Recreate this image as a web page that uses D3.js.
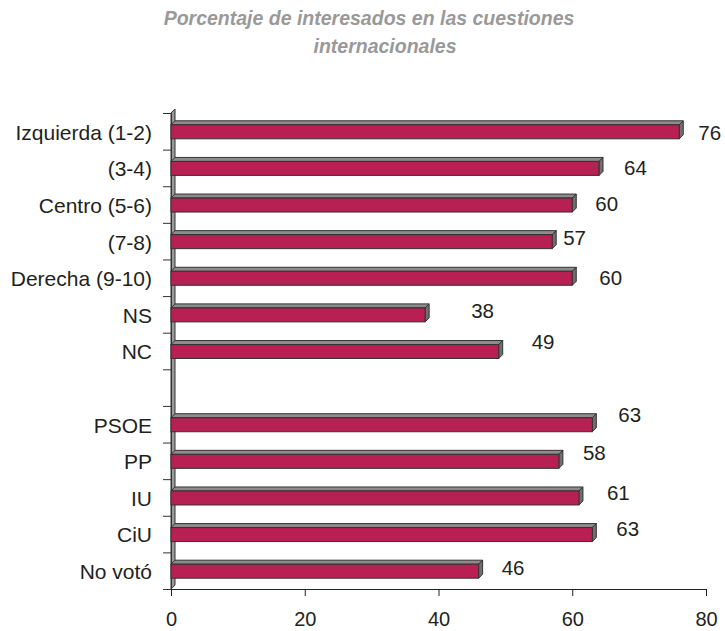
<html>
  <head>
    <!-- Load d3.js -->
    <script src="https://d3js.org/d3.v7.min.js"></script>
    <style>
      body { margin: 0; background: white; }
      text { font-family: "Liberation Sans", Arial, sans-serif; }
    </style>
  </head>
  <body>
    <div id="chart" style="width:725px;height:631px;"></div>

    <script>
      // data (blank row separates ideology from party vote)
      const categories = ["Izquierda (1-2)", "(3-4)", "Centro (5-6)", "(7-8)", "Derecha (9-10)", "NS", "NC",
                          "", "PSOE", "PP", "IU", "CiU", "No votó"];
      const values = [76, 64, 60, 57, 60, 38, 49, null, 63, 58, 61, 63, 46];
      const xTicks = [0, 20, 40, 60, 80];
      const titleLines = ["Porcentaje de interesados en las cuestiones", "internacionales"];

      // hand-moved data labels in the original chart (pixel nudges)
      const labelDx = [19, 25, 23, 11, 27, 46, 33, 0, 26, 24, 28, 24, 23];
      const labelDy = [2, 0, -1, -3, 0, -4, -9, 0, -9, -8, -5, -5, -3];

      const width = 725;
      const height = 631;
      const margin = ({top: 113, right: 19, bottom: 42, left: 171});
      const depth = 4;      // 3d offset
      const barH = 14;

      const svg = d3.create('svg')
        .attr('width', width)
        .attr('height', height);

      const xScale = d3.scaleLinear()
        .domain([0, 80])
        .range([margin.left, width - margin.right]);

      const yScale = d3.scaleBand()
        .domain(d3.range(categories.length))
        .range([margin.top, height - margin.bottom])
        .padding(0);

      const yTickScale = d3.scaleLinear()
        .domain([0, categories.length])
        .range([margin.top, height - margin.bottom]);

      // title
      svg.append('g')
        .selectAll('text')
        .data(titleLines)
        .join('text')
          .attr('x', (d, i) => i == 0 ? 369 : 385)
          .attr('y', (d, i) => 25 + i * 28)
          .attr('text-anchor', 'middle')
          .attr('font-size', '19.5px')
          .attr('font-weight', 'bold')
          .attr('font-style', 'italic')
          .attr('fill', '#999999')
          .text(d => d);

      const x0 = xScale(0);
      const y0 = yTickScale(0);
      const y1 = yTickScale(categories.length);

      // left side wall
      svg.append('path')
        .attr('d', `M${x0},${y1} L${x0},${y0} L${x0 + depth},${y0 - depth} L${x0 + depth},${y1 - depth} Z`)
        .attr('fill', '#9a9a9a')
        .attr('stroke', '#333')
        .attr('stroke-width', 1);

      // left ticks
      svg.append('g')
        .attr('transform', `translate(${x0}, 0)`)
        .call(d3.axisLeft(yTickScale)
          .tickValues(d3.range(categories.length + 1))
          .tickFormat('')
          .tickSize(8)
          .tickSizeOuter(0))
        .call(g => g.select('.domain').attr('stroke', '#333'))
        .call(g => g.selectAll('.tick line').attr('stroke', '#333'));

      // bottom axis
      svg.append('g')
        .attr('transform', `translate(0, ${y1})`)
        .call(d3.axisBottom(xScale)
          .tickValues(xTicks)
          .tickSize(7)
          .tickPadding(16)
          .tickSizeOuter(0))
        .call(g => g.select('.domain').attr('stroke', '#222'))
        .call(g => g.selectAll('.tick line').attr('stroke', '#222'))
        .call(g => g.selectAll('.tick text')
          .attr('font-size', '20px')
          .attr('font-family', '"Liberation Sans", Arial, sans-serif')
          .attr('fill', '#231f20'));

      const rows = values.map((v, i) => ({v: v, i: i})).filter(d => d.v != null);
      const barTop = d => yScale(d.i) + yScale.bandwidth() / 2 - 6.5;

      const bars = svg.append('g')
        .selectAll('g')
        .data(rows)
        .join('g');

      // top face
      bars.append('path')
        .attr('d', d => {
          const xa = x0, xb = xScale(d.v), y = barTop(d);
          return `M${xa},${y} L${xa + depth},${y - depth} L${xb + depth},${y - depth} L${xb},${y} Z`;
        })
        .attr('fill', '#8c8c8c')
        .attr('stroke', '#333')
        .attr('stroke-width', 1);

      // right side face
      bars.append('path')
        .attr('d', d => {
          const xb = xScale(d.v), y = barTop(d);
          return `M${xb},${y} L${xb + depth},${y - depth} L${xb + depth},${y - depth + barH} L${xb},${y + barH} Z`;
        })
        .attr('fill', '#6f6f6f')
        .attr('stroke', '#333')
        .attr('stroke-width', 1);

      // front face
      bars.append('rect')
        .attr('x', x0)
        .attr('y', d => barTop(d))
        .attr('width', d => xScale(d.v) - x0)
        .attr('height', barH)
        .attr('fill', '#b81f52')
        .attr('stroke', '#333')
        .attr('stroke-width', 1);

      // value labels
      svg.append('g')
        .selectAll('text')
        .data(rows)
        .join('text')
          .attr('x', d => xScale(d.v) + labelDx[d.i])
          .attr('y', d => yScale(d.i) + yScale.bandwidth() / 2 + labelDy[d.i])
          .attr('dy', '0.35em')
          .attr('font-size', '20.5px')
          .attr('fill', '#231f20')
          .text(d => d.v);

      // category labels
      svg.append('g')
        .selectAll('text')
        .data(categories)
        .join('text')
          .attr('x', 152)
          .attr('y', (d, i) => yScale(i) + yScale.bandwidth() / 2 + 1)
          .attr('dy', '0.35em')
          .attr('text-anchor', 'end')
          .attr('font-size', '21px')
          .attr('fill', '#231f20')
          .text(d => d);

      document.getElementById("chart").appendChild(svg.node());
    </script>
  </body>
</html>
